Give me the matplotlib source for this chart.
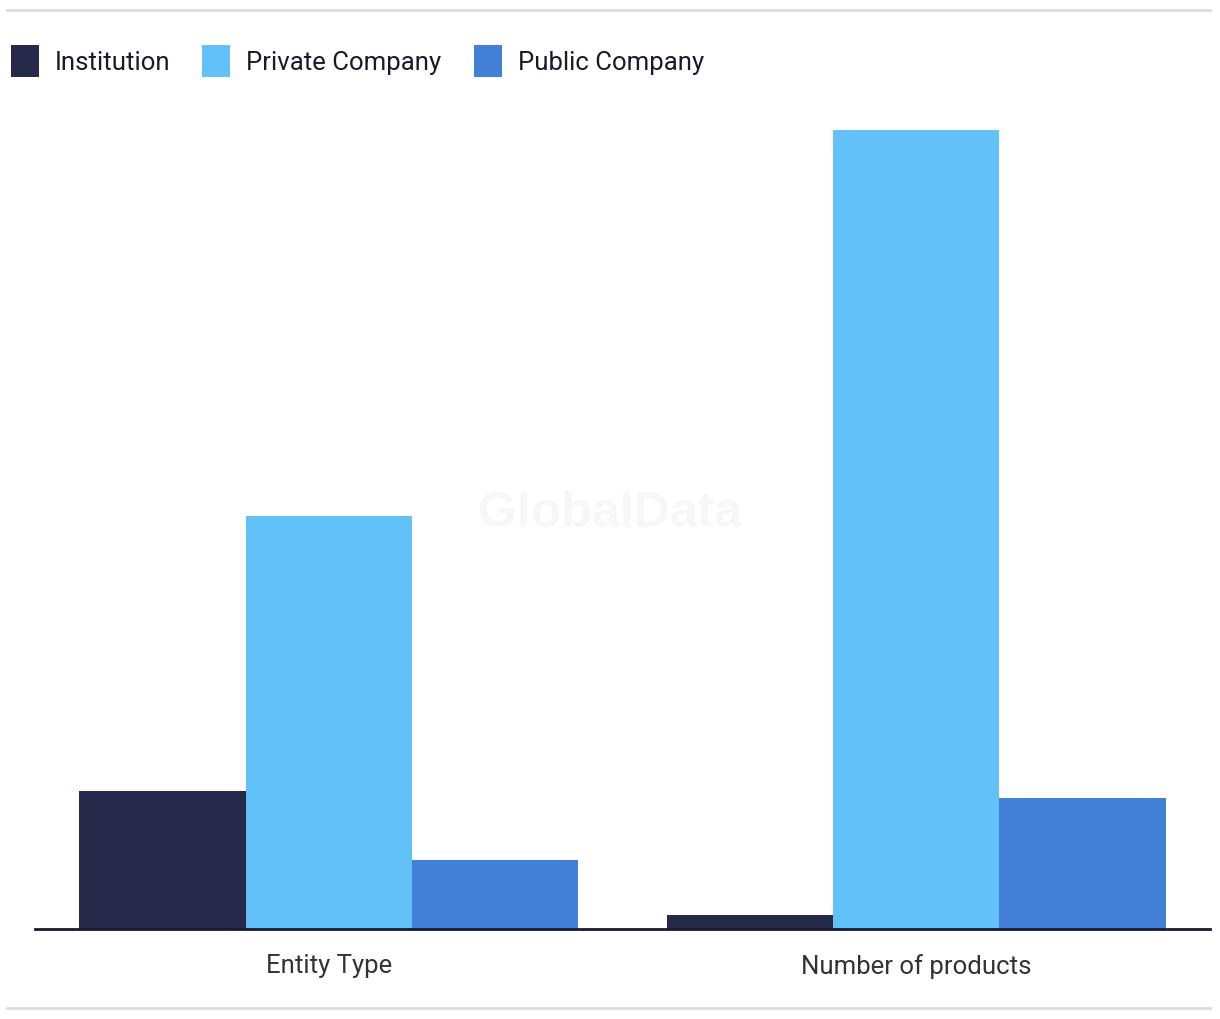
import numpy as np
import matplotlib.pyplot as plt
from matplotlib.lines import Line2D
from matplotlib.patches import Patch

categories = ['Entity Type', 'Number of products']
series = ['Institution', 'Private Company', 'Public Company']
institution = [20, 2]
private_company = [60, 116]
public_company = [10, 19]
colors = ['#27294b', '#62c1f9', '#427fd6']

plt.rcParams['font.family'] = ['Roboto', 'DejaVu Sans']

fig = plt.figure(figsize=(12.2, 10.2), dpi=100)
ax = fig.add_axes([35/1220, 90/1020, 1175/1220, 840/1020])

x = np.arange(len(categories))
w = 0.85 / 3
for i, (vals, c) in enumerate(zip([institution, private_company, public_company], colors)):
    ax.bar(x + (i - 1) * w, vals, width=w, color=c, label=series[i], zorder=2)

ax.set_xlim(-0.5, 1.5)
ax.set_ylim(0, 840 / 6.886)
ax.set_xticks(x)
ax.set_xticklabels(categories, fontsize=18.5, color='#333333')
ax.tick_params(axis='x', length=0, pad=17)
ax.set_yticks([])
for s in ['top', 'right', 'left']:
    ax.spines[s].set_visible(False)
ax.spines['bottom'].set_color('#1a1a2e')
ax.spines['bottom'].set_linewidth(2)

# watermark
fig.text(0.5, 1 - 514/1020, 'GlobalData', ha='center', va='center', fontsize=36,
         fontweight='bold', family='Liberation Sans', color='#f7f7f7', zorder=0)

# top / bottom rules
fig.add_artist(Line2D([7/1220, 1210/1220], [1 - 11/1020] * 2, color='#dddddd', lw=2))
fig.add_artist(Line2D([7/1220, 1210/1220], [1 - 1009/1020] * 2, color='#dddddd', lw=2))

handles = [Patch(facecolor=c, edgecolor='none') for c in colors]
fig.legend(handles, series, loc='center left', bbox_to_anchor=(3/1220, 1 - 62/1020),
           ncol=3, frameon=False, fontsize=18.5, handlelength=1.09, handleheight=1.5,
           handletextpad=0.62, columnspacing=1.25, borderaxespad=0, labelcolor='#1a1a2e',
           borderpad=0.3)

fig.savefig('out.png', dpi=100, facecolor='white')
